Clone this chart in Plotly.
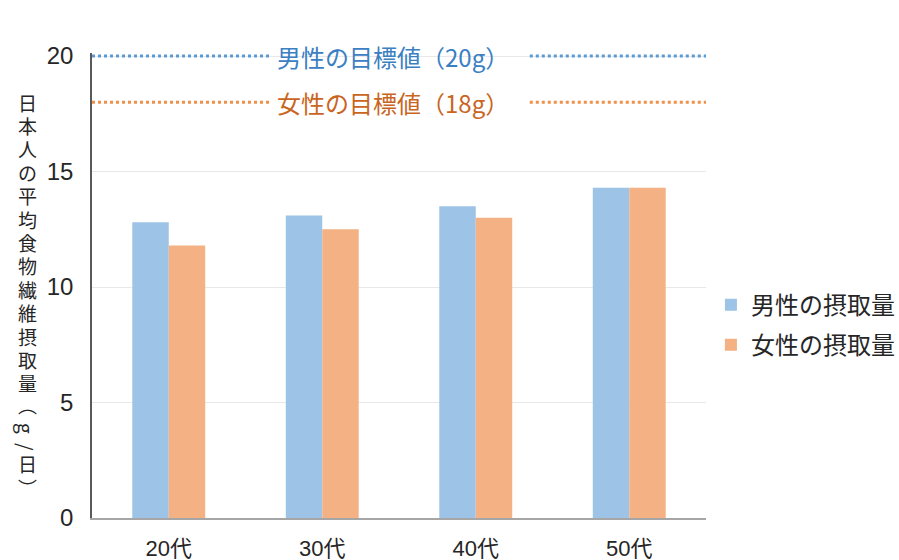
import plotly.graph_objects as go

categories = ["20代", "30代", "40代", "50代"]
male_intake = [12.8, 13.1, 13.5, 14.3]
female_intake = [11.8, 12.5, 13.0, 14.3]
series_names = ["男性の摂取量", "女性の摂取量"]
target_values = [20, 18]
target_labels = ["男性の目標値（20g）", "女性の目標値（18g）"]
y_ticks = [0, 5, 10, 15, 20]
y_title_chars = list("日本人の平均食物繊維摂取量") + ["︵", "g", "/", "日", "︶"]

JP = "Noto Sans CJK JP"
NUM = "Liberation Sans, Arial, " + JP

bar_colors = ["#9DC3E6", "#F4B183"]
line_colors = ["#5B9BD5", "#F0904A"]
text_colors = ["#3A80C2", "#C9651F"]

fig = go.Figure()
for i, (name, vals, col) in enumerate(zip(series_names, [male_intake, female_intake], bar_colors)):
    fig.add_trace(go.Bar(x=categories, y=vals, name=name, marker_color=col,
                         marker_line_width=0, legendgroup=f"g{i}"))

shapes = []
annotations = []
for val, lab, lc, tc in zip(target_values, target_labels, line_colors, text_colors):
    for x0, x1 in [(0, 0.29), (0.713, 1.0)]:
        shapes.append(dict(type="line", xref="paper", yref="y", x0=x0, x1=x1, y0=val, y1=val,
                           line=dict(color=lc, width=3, dash="dot")))
    annotations.append(dict(text=lab, xref="paper", yref="y", x=0.491, y=val, showarrow=False,
                            font=dict(family=JP, size=24, color=tc), xanchor="center", yanchor="middle"))

# y-axis title, stacked vertically (one character per slot; pixel centres from top of page)
title_font = dict(family=JP, size=19, color="#262626")
centres = [102 + 23.4 * k for k in range(13)] + [404, 428, 447, 463, 487]
for ch, cy in zip(y_title_chars, centres):
    rotate = ch in ("g", "/")
    annotations.append(dict(text=ch, textangle=90 if rotate else 0,
                            xref="paper", yref="paper", x=0, xshift=-65,
                            y=0, yshift=518 - cy, yanchor="middle", xanchor="center",
                            showarrow=False, font=title_font, borderpad=0))

fig.update_layout(
    width=899, height=560,
    margin=dict(l=92, r=193, t=53, b=42, autoexpand=False),
    plot_bgcolor="white", paper_bgcolor="white",
    barmode="group", bargap=0.525, bargroupgap=0,
    shapes=shapes, annotations=annotations,
    legend=dict(x=1.008, y=0.415, xanchor="left", yanchor="middle",
                font=dict(family=JP, size=24, color="#262626"), tracegroupgap=6,
                itemwidth=30),
    showlegend=True,
)
fig.update_xaxes(showline=True, linecolor="#A6A6A6", linewidth=1.5, automargin=False,
                 ticks="outside", ticklen=10, tickcolor="rgba(0,0,0,0)",
                 tickfont=dict(family=NUM, size=22, color="#262626"))
fig.update_yaxes(range=[0, 20.13], tickvals=y_ticks, showline=True, linecolor="#595959", linewidth=1.5,
                 showgrid=True, gridcolor="#E8E8E8", gridwidth=1, automargin=False,
                 ticks="outside", ticklen=12, tickcolor="rgba(0,0,0,0)",
                 tickfont=dict(family=NUM, size=24, color="#262626"), zeroline=False)

fig.write_html("out.html", post_script="document.body.style.margin='0px';",
               config={"displayModeBar": False})
